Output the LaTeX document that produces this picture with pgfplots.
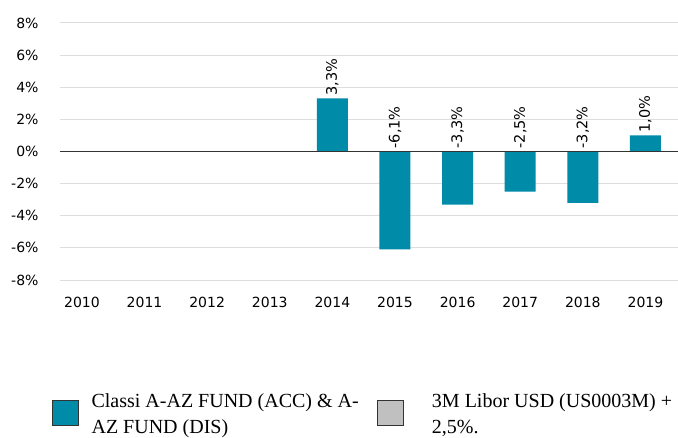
\documentclass[border=0pt]{standalone}
\usepackage{pgfplots}
\pgfplotsset{compat=1.18}
\usepackage{pgfplotstable}
\usepackage{fontspec}
\setmainfont{DejaVu Sans}
\newfontfamily\legfont{Liberation Serif}
\definecolor{barblue}{HTML}{008BA8}
\definecolor{libgray}{HTML}{C0C0C0}
\definecolor{gridgray}{HTML}{DDDDDD}
\pgfplotstableread{
x v lab ly
0 nan {} nan
1 nan {} nan
2 nan {} nan
3 nan {} nan
4 3.3 {3,3\%} 3.3
5 -6.1 {-6,1\%} 0
6 -3.3 {-3,3\%} 0
7 -2.5 {-2,5\%} 0
8 -3.2 {-3,2\%} 0
9 1.0 {1,0\%} 1.0
}\data
\begin{document}
\begin{tikzpicture}
\useasboundingbox (0,0) rectangle (678pt,437pt);
\begin{axis}[
  at={(60pt,157pt)}, anchor=south west,
  scale only axis, width=618pt, height=257pt,
  xmin=-0.35, xmax=9.52, ymin=-8, ymax=8,
  axis line style={draw=none},
  clip=false,
  ytick={-8,-6,...,8},
  yticklabel={\pgfmathprintnumber{\tick}\%},
  xtick={0,...,9},
  xticklabels={2010,2011,2012,2013,2014,2015,2016,2017,2018,2019},
  ymajorgrids, grid style={gridgray, line width=1pt},
  major tick length=0pt,
  tick label style={font=\fontsize{14}{16}\selectfont},
  /pgf/number format/assume math mode=true,
  xticklabel style={yshift=-14pt},
  yticklabel style={xshift=-18pt},
  legend columns=2,
  legend style={at={(-11pt,-109pt)}, anchor=north west, draw=none, fill=none,
    font=\legfont\fontsize{20}{26}\selectfont,
    /tikz/every odd column/.append style={column sep=11pt},
    /tikz/every even column/.append style={column sep=5pt}},
  legend cell align=left,
  legend image code/.code={\draw[#1, draw=black!80] (0pt,-24pt) rectangle (26pt,1pt);},
]
\addplot[ybar, bar width=31pt, fill=barblue, draw=none] table[x=x, y=v] {\data};
\addlegendentry{\parbox[t]{278pt}{\raggedright Classi A-AZ FUND (ACC) \& A-\\AZ FUND (DIS)}}
\addlegendimage{fill=libgray}
\addlegendentry{\parbox[t]{300pt}{\raggedright\hspace*{16pt}3M Libor USD (US0003M) +\\\hspace*{16pt}2,5\%.}}
\draw[black!80, line width=1pt] (axis cs:-0.35,0) -- (axis cs:9.52,0);
\addplot[only marks, mark=none, forget plot,
  nodes near coords, point meta=explicit symbolic,
  every node near coord/.style={rotate=90, anchor=west, font=\fontsize{14.5}{16}\selectfont, inner sep=3pt}]
  table[x=x, y=ly, meta=lab] {\data};
\end{axis}
\end{tikzpicture}
\end{document}
